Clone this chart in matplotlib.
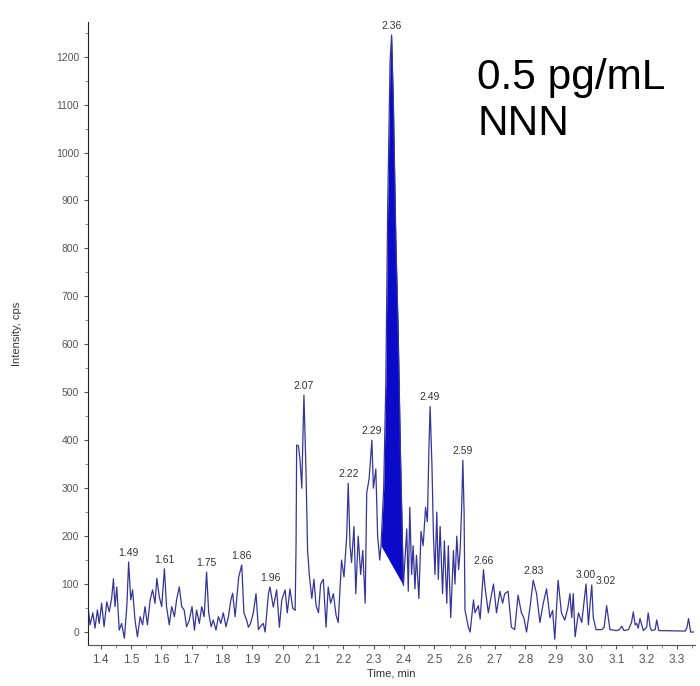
import numpy as np
import matplotlib
matplotlib.use('Agg')
import matplotlib.pyplot as plt
from matplotlib.ticker import MultipleLocator

plt.rcParams['font.family'] = ['Liberation Sans', 'DejaVu Sans']

# chromatogram trace (time in min, intensity in cps)
time = [
    1.358, 1.365, 1.374, 1.381, 1.389, 1.395, 1.403, 1.411, 1.420, 1.428,
    1.436, 1.442, 1.447, 1.453, 1.461, 1.469, 1.478, 1.486, 1.492, 1.499,
    1.505, 1.513, 1.521, 1.530, 1.538, 1.546, 1.554, 1.563, 1.571, 1.579,
    1.585, 1.593, 1.601, 1.610, 1.617, 1.626, 1.634, 1.643, 1.650, 1.659,
    1.667, 1.675, 1.683, 1.692, 1.701, 1.709, 1.716, 1.725, 1.733, 1.741,
    1.749, 1.756, 1.764, 1.771, 1.780, 1.788, 1.796, 1.804, 1.813, 1.821,
    1.829, 1.835, 1.843, 1.855, 1.865, 1.872, 1.881, 1.887, 1.894, 1.903,
    1.912, 1.920, 1.927, 1.936, 1.942, 1.953, 1.958, 1.969, 1.980, 1.989,
    1.997, 2.008, 2.015, 2.024, 2.033, 2.041, 2.044, 2.046, 2.052, 2.057,
    2.063, 2.066, 2.070, 2.077, 2.082, 2.088, 2.096, 2.103, 2.110, 2.118,
    2.125, 2.134, 2.143, 2.150, 2.158, 2.167, 2.176, 2.183, 2.194, 2.202,
    2.211, 2.216, 2.222, 2.227, 2.235, 2.241, 2.249, 2.257, 2.264, 2.272,
    2.277, 2.285, 2.294, 2.299, 2.307, 2.313, 2.320, 2.324, 2.333, 2.340,
    2.346, 2.354, 2.359, 2.365, 2.373, 2.381, 2.388, 2.398, 2.403, 2.409,
    2.414, 2.419, 2.425, 2.430, 2.436, 2.441, 2.449, 2.456, 2.463, 2.471,
    2.477, 2.482, 2.486, 2.492, 2.497, 2.502, 2.508, 2.513, 2.519, 2.527,
    2.533, 2.541, 2.546, 2.554, 2.563, 2.568, 2.574, 2.580, 2.585, 2.590,
    2.594, 2.598, 2.601, 2.612, 2.618, 2.629, 2.634, 2.645, 2.651, 2.662,
    2.667, 2.678, 2.686, 2.695, 2.705, 2.716, 2.725, 2.732, 2.743, 2.754,
    2.765, 2.776, 2.787, 2.795, 2.804, 2.815, 2.826, 2.837, 2.848, 2.859,
    2.870, 2.881, 2.890, 2.897, 2.908, 2.919, 2.930, 2.940, 2.947, 2.953,
    2.958, 2.964, 2.975, 2.986, 2.993, 3.000, 3.008, 3.013, 3.019, 3.024,
    3.033, 3.052, 3.060, 3.068, 3.079, 3.101, 3.110, 3.118, 3.125, 3.140,
    3.150, 3.156, 3.162, 3.167, 3.172, 3.178, 3.189, 3.200, 3.205, 3.212,
    3.217, 3.228, 3.233, 3.240, 3.327, 3.333, 3.338, 3.345, 3.354,
]
intensity = [
    53, 15, 40, 8, 46, 18, 60, 11, 63, 42,
    70, 111, 53, 94, 4, 18, -13, 53, 146, 67,
    88, 25, -10, 32, 15, 53, 15, 67, 88, 60,
    112, 74, 53, 132, 53, 15, 53, 32, 67, 94,
    53, 46, 11, 25, 53, 4, 46, 18, 53, 32,
    125, 40, 11, 25, 4, 32, 18, 40, 11, 32,
    67, 81, 32, 115, 140, 40, 25, 10, 18, 40,
    80, 5, 12, 18, 0, 80, 94, 52, 88, 10,
    67, 88, 40, 90, 50, 45, 180, 390, 388, 360,
    300, 390, 494, 330, 170, 117, 70, 110, 55, 40,
    100, 110, 10, 94, 60, 80, 35, 20, 150, 115,
    200, 310, 180, 145, 220, 80, 200, 120, 170, 60,
    290, 320, 400, 300, 340, 200, 150, 180, 300, 520,
    880, 1190, 1245, 1100, 820, 620, 380, 97, 150, 215,
    85, 260, 120, 180, 90, 160, 70, 210, 180, 260,
    230, 380, 470, 350, 200, 120, 250, 110, 220, 80,
    190, 60, 180, 30, 170, 100, 200, 130, 170, 260,
    358, 250, 46, 10, 0, 67, 40, 55, 27, 130,
    94, 40, 70, 100, 40, 85, 60, 80, 85, 10,
    5, 77, 40, 30, 0, 50, 108, 80, 20, 60,
    90, 30, 45, -15, 108, 40, 25, 50, 80, 30,
    80, -10, 40, 20, 60, 100, 15, 55, 98, 30,
    5, 5, 10, 55, 5, 3, 5, 12, 3, 5,
    20, 42, 15, 18, 8, 28, 3, 10, 40, 8,
    3, 5, 25, 3, 2, 10, 28, 0, 0,
]

# integrated peak (start / end of the shaded area)
peak_start = 2.324
peak_end = 2.398

# retention time labels
label_times = [1.492, 1.610, 1.749, 1.865, 1.958, 2.070, 2.216, 2.294, 2.359,
               2.486, 2.594, 2.662, 2.826, 3.000, 3.019]
label_texts = ['1.49', '1.61', '1.75', '1.86', '1.96', '2.07', '2.22', '2.29', '2.36',
               '2.49', '2.59', '2.66', '2.83', '3.00', '3.02']

t = np.array(time)
y = np.array(intensity, dtype=float)

fig = plt.figure(figsize=(7.0, 6.86), dpi=100)
ax = fig.add_axes([0.1257, 0.0598, 0.867, 0.908])

line_color = '#34349a'
ax.plot(t, y, color=line_color, lw=0.9)

# shaded peak between trace and straight baseline
mask = (t >= peak_start) & (t <= peak_end)
y0 = np.interp(peak_start, t, y)
y1 = np.interp(peak_end, t, y)
base = y0 + (y1 - y0) * (t - peak_start) / (peak_end - peak_start)
ax.fill_between(t, base, y, where=mask, color='#0a0ac8', lw=0, interpolate=True)

for lt, lab in zip(label_times, label_texts):
    val = np.interp(lt, t, y)
    dx = 0
    dy = 3
    if lab == '3.02':
        dx, dy = 10, -1
    ax.annotate(lab, (lt, val), xytext=(dx, dy), textcoords='offset points',
                ha='center', va='bottom', fontsize=7.5, color='#333333')

ax.text(0.641, 0.942, '0.5 pg/mL\nNNN', transform=ax.transAxes, fontsize=30.5,
        ha='left', va='top', color='black', linespacing=1.2)

ax.set_xlim(1.358, 3.359)
ax.set_ylim(-27, 1272)
ax.xaxis.set_major_locator(MultipleLocator(0.1))
ax.xaxis.set_minor_locator(MultipleLocator(0.05))
ax.yaxis.set_major_locator(MultipleLocator(100))
ax.yaxis.set_minor_locator(MultipleLocator(50))
ax.xaxis.set_major_formatter(plt.FuncFormatter(lambda v, p: f'{v:.1f}'))

ax.spines['top'].set_visible(False)
ax.spines['right'].set_visible(False)
ax.spines['left'].set_color('#222222')
ax.spines['bottom'].set_color('#555555')
ax.tick_params(axis='both', which='major', labelsize=7.5, labelcolor='#555555',
               length=3, color='#555555')
ax.tick_params(axis='both', which='minor', length=2, color='#777777')
ax.tick_params(axis='x', labelsize=8.5)

ax.set_xlabel('Time, min', fontsize=8, color='#333333', labelpad=2)
ax.set_ylabel('Intensity, cps', fontsize=8, color='#333333', labelpad=24)

plt.savefig('out.png', dpi=100)
